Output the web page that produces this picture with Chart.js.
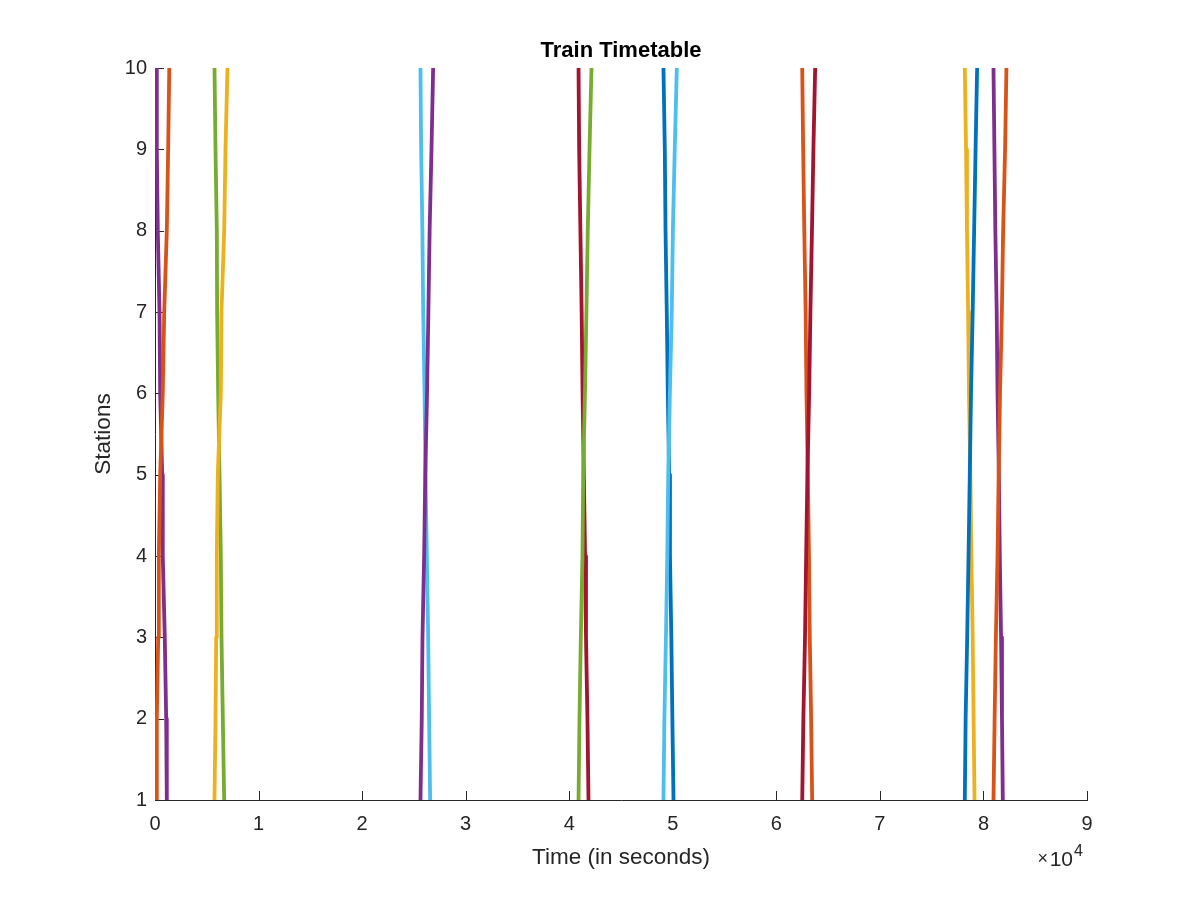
<!DOCTYPE html>
<html>
<head>
<meta charset="utf-8">
<script src="https://cdn.jsdelivr.net/npm/chart.js@4.4.1/dist/chart.umd.min.js"></script>
<style>
  html, body { margin: 0; padding: 0; background: #ffffff; }
  #wrap { width: 1200px; height: 900px; }
</style>
</head>
<body>
<div id="wrap"><canvas id="c" width="1200" height="900"></canvas></div>
<script>
// ---------- data ----------
const stationsUp = [1, 2, 3, 4, 5, 6, 7, 8, 9, 10];
const stationsDown = [10, 9, 8, 7, 6, 5, 4, 3, 2, 1];
const xTickLabels = ['0', '1', '2', '3', '4', '5', '6', '7', '8', '9'];
const yTickLabels = ['1', '2', '3', '4', '5', '6', '7', '8', '9', '10'];

// times (s) at each station, in travel order
const up1 = [120, 175, 310, 370, 500, 750, 890, 1140, 1270, 1380];
const up2 = [5745, 5842, 5910, 5967, 6064, 6356, 6421, 6680, 6808, 7000];
const up3 = [25635, 25760, 25830, 25990, 26100, 26270, 26400, 26520, 26700, 26860];
const up4 = [40900, 40990, 41120, 41280, 41350, 41520, 41660, 41790, 41960, 42150];
const up5 = [49100, 49190, 49340, 49470, 49560, 49720, 49900, 50010, 50190, 50390];
const up6 = [62500, 62610, 62770, 62880, 63000, 63170, 63290, 63440, 63580, 63750];
const up7 = [78200, 78280, 78430, 78560, 78680, 78800, 78960, 79100, 79240, 79390];
const up8 = [80970, 81080, 81200, 81360, 81470, 81600, 81780, 81900, 82090, 82220];

const down1 = [120, 175, 270, 435, 500, 695, 750, 945, 1080, 1140];
const down2 = [5745, 5842, 5970, 6000, 6100, 6230, 6356, 6421, 6550, 6680];
const down3 = [25635, 25700, 25820, 25900, 26030, 26120, 26250, 26380, 26470, 26570];
const down4 = [40900, 40960, 41080, 41200, 41290, 41410, 41530, 41620, 41760, 41860];
const down5 = [49100, 49230, 49300, 49420, 49520, 49650, 49730, 49860, 49960, 50070];
const down6 = [62500, 62590, 62700, 62830, 62910, 63040, 63150, 63230, 63360, 63460];
const down7 = [78200, 78320, 78410, 78520, 78600, 78740, 78840, 78960, 79050, 79140];
const down8 = [80970, 81060, 81150, 81280, 81360, 81490, 81580, 81700, 81790, 81870];

const upTrains = [up1, up2, up3, up4, up5, up6, up7, up8];
const downTrains = [down1, down2, down3, down4, down5, down6, down7, down8];

// ---------- styles ----------
const C = {
  blue: '#0072BD', orange: '#D95319', yellow: '#EDB120', purple: '#7E2F8E',
  green: '#77AC30', lightblue: '#4DBEEE', darkred: '#A2142F'
};
const upColors = [C.orange, C.yellow, C.purple, C.green, C.lightblue, C.darkred, C.blue, C.orange];
const downColors = [C.purple, C.green, C.lightblue, C.darkred, C.blue, C.orange, C.yellow, C.purple];

const FONT = '"Liberation Sans", Arial, Helvetica, sans-serif';
const TXT = '#262626';

const datasets = [];
upTrains.forEach((t, i) => {
  datasets.push({
    label: 'Up ' + (i + 1),
    data: t.map((v, k) => ({ x: v, y: stationsUp[k] })),
    borderColor: upColors[i], backgroundColor: upColors[i],
    borderWidth: 3.8, pointRadius: 0, tension: 0, fill: false,
    borderJoinStyle: 'round', borderCapStyle: 'butt'
  });
});
downTrains.forEach((t, i) => {
  datasets.push({
    label: 'Down ' + (i + 1),
    data: t.map((v, k) => ({ x: v, y: stationsDown[k] })),
    borderColor: downColors[i], backgroundColor: downColors[i],
    borderWidth: 3.8, pointRadius: 0, tension: 0, fill: false,
    borderJoinStyle: 'round', borderCapStyle: 'butt'
  });
});

// inner tick marks + x10^4 exponent
const innerTicks = {
  id: 'innerTicks',
  beforeDatasetsDraw(chart) {
    const { ctx, chartArea: a, scales: { x, y } } = chart;
    ctx.save();
    ctx.strokeStyle = TXT;
    ctx.lineWidth = 1;
    ctx.beginPath();
    x.ticks.forEach(t => {
      const px = Math.round(x.getPixelForValue(t.value)) + 0.5;
      ctx.moveTo(px, a.bottom);
      ctx.lineTo(px, a.bottom - 9);
    });
    y.ticks.forEach(t => {
      const py = Math.round(y.getPixelForValue(t.value)) + 0.5;
      ctx.moveTo(a.left, py);
      ctx.lineTo(a.left + 9, py);
    });
    ctx.stroke();
    ctx.restore();
  },
  afterDraw(chart) {
    const { ctx, chartArea: a } = chart;
    ctx.save();
    ctx.fillStyle = TXT;
    ctx.textBaseline = 'alphabetic';
    ctx.font = '21px ' + FONT;
    ctx.textAlign = 'right';
    ctx.fillText('10', a.right - 14, 866);
    ctx.font = '18px ' + FONT;
    ctx.fillText('\u00D7', a.right - 39, 864);
    ctx.font = '16px ' + FONT;
    ctx.textAlign = 'left';
    ctx.fillText('4', a.right - 13, 856);
    ctx.restore();
  }
};

new Chart(document.getElementById('c'), {
  type: 'line',
  data: { datasets },
  plugins: [innerTicks],
  options: {
    responsive: false,
    animation: false,
    devicePixelRatio: 1,
    layout: { padding: { left: 0, right: 113, top: 0, bottom: 0 } },
    plugins: {
      legend: { display: false },
      tooltip: { enabled: false },
      title: {
        display: true,
        text: 'Train Timetable',
        fullSize: false,
        color: '#000000',
        font: { family: FONT, size: 22, weight: 'bold', lineHeight: 1.2 },
        padding: { top: 38, bottom: 3.6 }
      }
    },
    scales: {
      x: {
        type: 'linear',
        min: 0, max: 90000,
        afterFit(s) { s.height = 100; },
        border: { display: true, color: TXT, width: 1 },
        grid: { display: true, drawOnChartArea: false, drawTicks: false },
        ticks: {
          stepSize: 10000, autoSkip: false, maxRotation: 0, padding: 12,
          color: TXT, font: { family: FONT, size: 20 },
          callback: (v, i) => xTickLabels[Math.round(v / 10000)]
        },
        title: {
          display: true, text: 'Time (in seconds)', color: TXT,
          font: { family: FONT, size: 22.5, lineHeight: 1.2 },
          padding: { top: 0, bottom: 29 }
        }
      },
      y: {
        type: 'linear',
        min: 1, max: 10,
        afterFit(s) { s.width = 155; },
        border: { display: true, color: TXT, width: 1 },
        grid: { display: true, drawOnChartArea: false, drawTicks: false },
        ticks: {
          stepSize: 1, autoSkip: false, padding: 8,
          color: TXT, font: { family: FONT, size: 20 },
          callback: (v) => yTickLabels[Math.round(v) - 1]
        },
        title: {
          display: true, text: 'Stations', color: TXT,
          font: { family: FONT, size: 22.5, lineHeight: 1.2 },
          padding: { top: 90, bottom: 0 }
        }
      }
    }
  }
});
</script>
</body>
</html>
